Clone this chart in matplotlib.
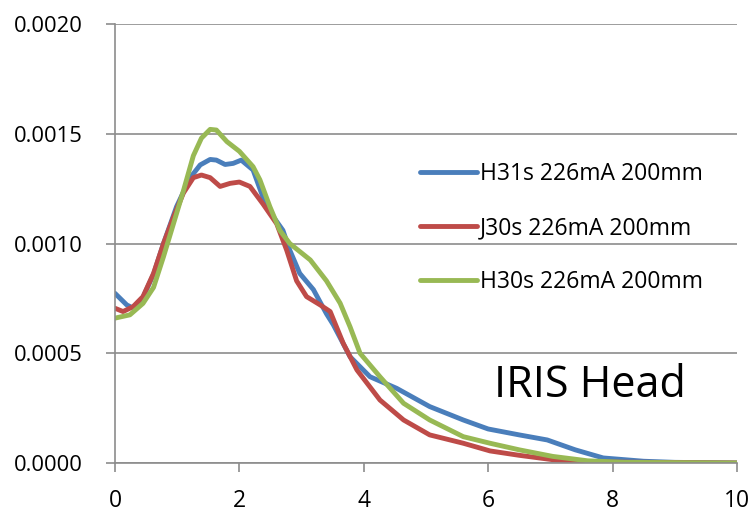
import matplotlib.pyplot as plt

plt.rcParams['font.family'] = ['Open Sans', 'DejaVu Sans']

# H31s 226mA 200mm
h31_x = [0, 0.19, 0.29, 0.45, 0.62, 0.78, 0.99, 1.21, 1.37, 1.53, 1.63, 1.77, 1.9, 2.03, 2.22,
         2.38, 2.55, 2.7, 2.81, 2.97, 3.19, 3.4, 3.51, 3.78, 4.1, 4.53, 5.06, 5.6, 6.0, 6.5, 6.95,
         7.4, 7.85, 8.5, 9, 10]
h31_y = [0.000773, 0.00072, 0.000706, 0.000755, 0.00086, 0.001, 0.001168, 0.0013, 0.001358,
         0.001383, 0.00138, 0.00136, 0.001365, 0.00138, 0.001335, 0.00121, 0.00112, 0.00106,
         0.00097, 0.000864, 0.00079, 0.00068, 0.00063, 0.000484, 0.000393, 0.00034, 0.000257,
         0.000196, 0.000155, 0.000128, 0.000105, 0.00006, 0.000023, 0.000008, 0.000003, 0]

# J30s 226mA 200mm
j30_x = [0, 0.13, 0.29, 0.45, 0.62, 0.78, 0.94, 1.1, 1.26, 1.39, 1.53, 1.69, 1.85, 2.0, 2.17,
         2.38, 2.6, 2.76, 2.92, 3.08, 3.3, 3.46, 3.67, 3.89, 4.26, 4.64, 5.06, 5.6, 6.03, 6.5,
         7.04, 7.6, 10]
j30_y = [0.000705, 0.00069, 0.000712, 0.000758, 0.000864, 0.001, 0.00112, 0.00123, 0.0013,
         0.001312, 0.0013, 0.00126, 0.001274, 0.00128, 0.00126, 0.00118, 0.00109, 0.00097,
         0.00083, 0.000758, 0.00072, 0.00069, 0.000545, 0.000424, 0.000287, 0.000196, 0.000128,
         0.00009, 0.000055, 0.000035, 0.000015, 0.000005, 0]

# H30s 226mA 200mm
h30_x = [0, 0.24, 0.45, 0.62, 0.78, 0.94, 1.1, 1.26, 1.39, 1.53, 1.63, 1.8, 2.0, 2.22, 2.33,
         2.49, 2.65, 2.81, 3.14, 3.4, 3.62, 3.78, 3.94, 4.26, 4.64, 5.06, 5.6, 6.03, 6.5, 7.04,
         7.6, 8.2, 10]
h30_y = [0.00066, 0.000675, 0.000727, 0.0008, 0.00094, 0.00109, 0.00124, 0.0014, 0.00148,
         0.00152, 0.001517, 0.001464, 0.00142, 0.00135, 0.00129, 0.001168, 0.00106, 0.001,
         0.000925, 0.00083, 0.000728, 0.00062, 0.0005, 0.000393, 0.000272, 0.000196, 0.00012,
         0.00009, 0.00006, 0.00003, 0.00001, 0.000003, 0]

labels = ['H31s 226mA 200mm', 'J30s 226mA 200mm', 'H30s 226mA 200mm']
colors = ['#4A7EBB', '#BE4B48', '#98B954']

fig = plt.figure(figsize=(7.55, 5.12), dpi=100)
ax = fig.add_axes([0.1523, 0.0957, 0.8238, 0.8574])

for xs, ys, lab, c in zip([h31_x, j30_x, h30_x], [h31_y, j30_y, h30_y], labels, colors):
    ax.plot(xs, ys, color=c, lw=3.5, label=lab, solid_capstyle='round', solid_joinstyle='round')

ax.set_xlim(0, 10)
ax.set_ylim(0, 0.002)
ax.set_xticks([0, 2, 4, 6, 8, 10])
ax.set_yticks([0, 0.0005, 0.001, 0.0015, 0.002])
ax.set_yticklabels(['%.4f' % v for v in ax.get_yticks()])
ax.yaxis.grid(True, color='#8C8C8C', lw=1.2)
ax.set_axisbelow(True)
for s in ['top', 'right']:
    ax.spines[s].set_visible(False)
for s in ['left', 'bottom']:
    ax.spines[s].set_color('#8C8C8C')
    ax.spines[s].set_linewidth(1.2)
ax.tick_params(colors='#8C8C8C', labelcolor='black', labelsize=16.5, length=6.5, width=1.2)
ax.tick_params(axis='y', pad=17, labelsize=15.8)
ax.tick_params(axis='x', pad=12)

ax.legend(loc='center left', bbox_to_anchor=(0.49, 0.535), frameon=False, fontsize=16.5,
          handlelength=2.5, handletextpad=0.13, labelspacing=1.31, borderpad=0,
          borderaxespad=0)

ax.text(0.764, 0.177, 'IRIS Head', transform=ax.transAxes, fontsize=31,
        ha='center', va='center')

fig.savefig('out.png', dpi=100)
